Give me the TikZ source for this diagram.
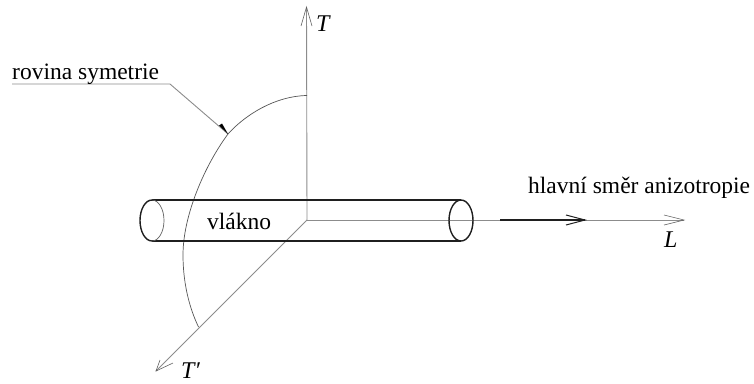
\documentclass[tikz,border=0pt]{standalone}
\usepackage{fontspec}
\setmainfont{Liberation Serif}
\usetikzlibrary{calc}
\definecolor{axisgray}{gray}{0.55}
\definecolor{inkdark}{gray}{0.12}
\tikzset{
  axisline/.style={draw=axisgray,line width=0.9pt},
  barb/.style={draw=inkdark!70!white,line width=0.6pt},
  fiber/.style={draw=inkdark,line width=1.4pt},
  fiberthin/.style={draw=axisgray!70!black,line width=0.7pt},
  planecurve/.style={draw=inkdark!75!white,line width=0.7pt},
  lbl/.style={font=\fontsize{23.5}{25}\selectfont,text=black,inner sep=0pt,anchor=base west},
  axlbl/.style={font=\fontsize{24}{25}\selectfont\itshape,text=black,inner sep=0pt,anchor=base west}
}
\begin{document}
\begin{tikzpicture}[x=1pt,y=-1pt]
\useasboundingbox (0,0) rectangle (754,383);
\fill[white] (0,0) rectangle (754,383);
\coordinate (O) at (307,220);
\coordinate (Ttip) at (306.5,7);
\coordinate (Ltip) at (684,220);
\coordinate (Ptip) at (156,371);
% axes
\draw[axisline] (O) -- (Ttip);
\draw[axisline] (O) -- (Ltip);
\draw[axisline] (O) -- (Ptip);
\draw[barb] (301,26) -- (Ttip) -- (312,26);
\draw[barb] (664,215) -- (Ltip) -- (664,225);
\draw[barb] (160,360) -- (Ptip) -- (173,363);
% plane of symmetry
\draw[planecurve] (307,95.5) .. controls (275,96) and (245,115) .. (228,134)
  .. controls (205,165) and (183,215) .. (183,255)
  .. controls (183,280) and (188,305) .. (198.5,327);
% fibre
\coordinate (LT) at (152,200);
\coordinate (LB) at (152,241);
\coordinate (RT) at (461,200);
\coordinate (RB) at (461,241);
\draw[fiber] (LT) -- (RT);
\draw[fiber] (LB) -- (RB);
\draw[fiber] (LT) arc[start angle=-90,end angle=-270,x radius=12,y radius=20.5];
\draw[fiberthin] (LT) arc[start angle=-90,end angle=90,x radius=12,y radius=20.5];
\draw[fiber] (461,220.5) ellipse[x radius=12,y radius=20.5];
% main direction arrow
\coordinate (Mstart) at (500,220);
\coordinate (Mtip) at (585,220);
\draw[fiber] (Mstart) -- (Mtip);
\draw[draw=inkdark,line width=1pt] (566,215) -- (Mtip) -- (566,225);
% leader
\coordinate (La) at (12,84);
\coordinate (Lb) at (170,84);
\coordinate (Lc) at (228,134);
\draw[axisline] (La) -- (Lb) -- (Lc);
\fill[black] (228,134) -- (219,125.5) -- (222,123.5) -- cycle;
% labels
\node[lbl] (rov) at (12,79) {rovina symetrie};
\node[lbl] (vl) at (207,229) {vlákno};
\node[lbl] (hl) at (528,193) {hlavní směr anizotropie};
\node[axlbl] (tl) at (316,31) {T};
\node[axlbl] (ll) at (664,247) {L};
\node[axlbl] (pl) at (181,378) {T′};
\end{tikzpicture}
\end{document}
